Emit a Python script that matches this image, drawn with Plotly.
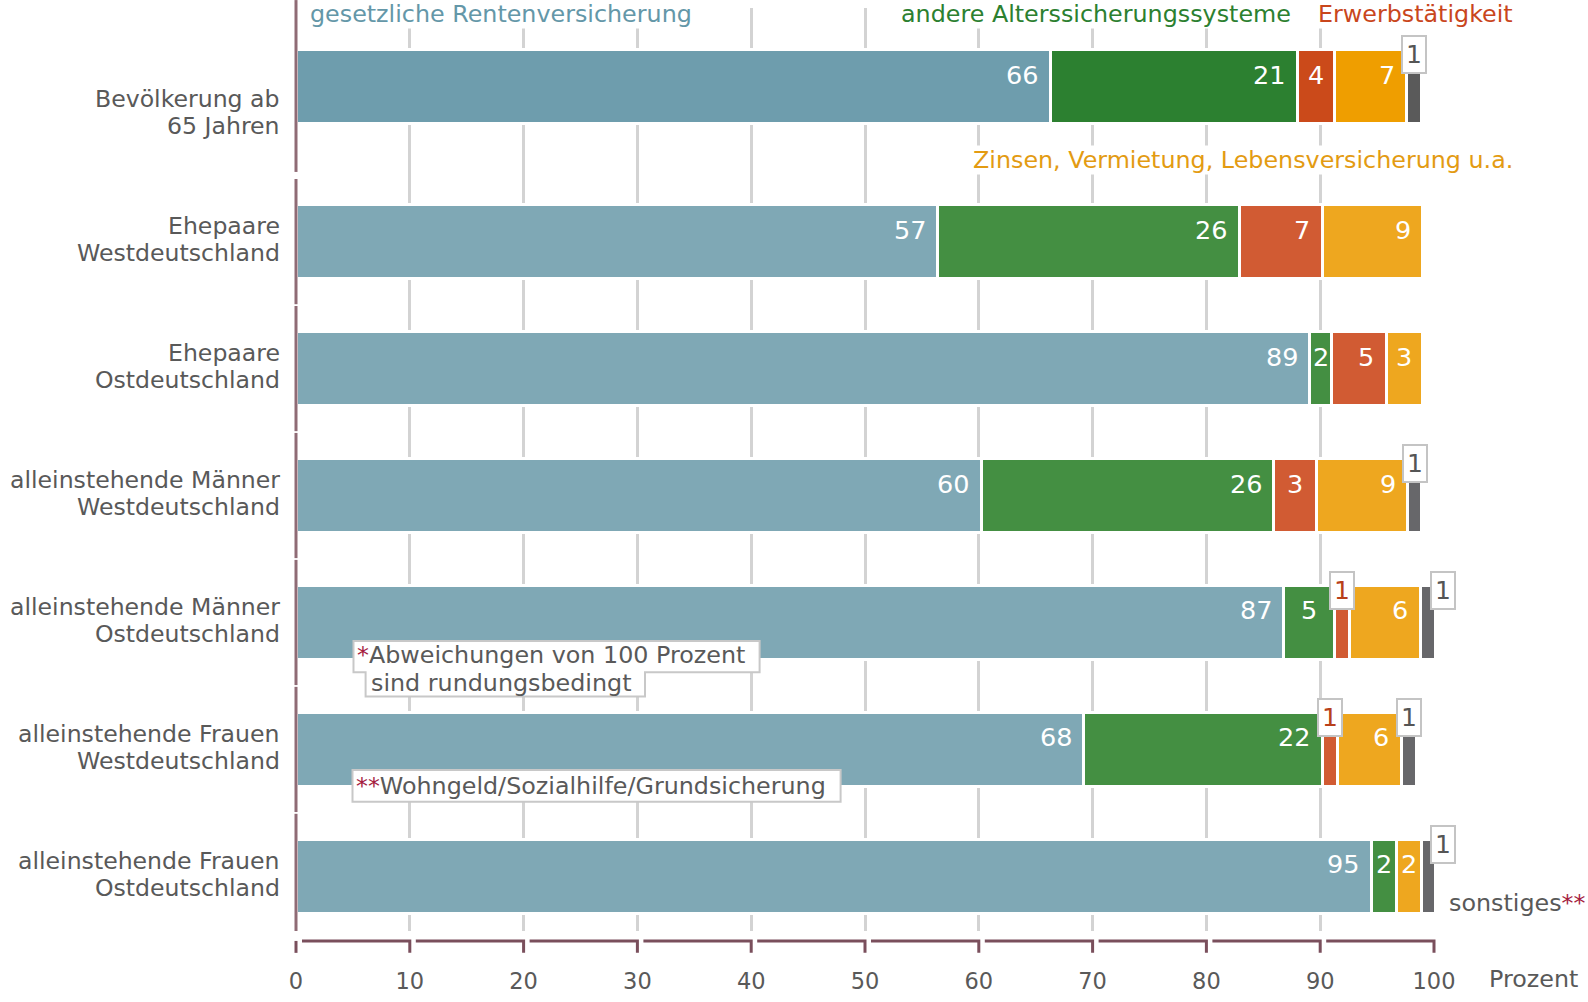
import plotly.graph_objects as go

# Alterseinkommen nach Quellen, Anteile in Prozent
categories = ["Bevölkerung ab\n65 Jahren", "Ehepaare\nWestdeutschland", "Ehepaare\nOstdeutschland",
              "alleinstehende Männer\nWestdeutschland", "alleinstehende Männer\nOstdeutschland",
              "alleinstehende Frauen\nWestdeutschland", "alleinstehende Frauen\nOstdeutschland"]

series_names = ["gesetzliche Rentenversicherung", "andere Alterssicherungssysteme", "Erwerbstätigkeit",
                "Zinsen, Vermietung, Lebensversicherung u.a.", "sonstiges"]

grv = [66.3, 56.4, 89.1, 60.2, 86.8, 69.2, 94.5]
andere = [21.7, 26.5, 1.9, 25.7, 4.5, 21.0, 2.2]
erwerb = [3.3, 7.3, 4.8, 3.8, 1.3, 1.3, 0]
zinsen = [6.3, 8.8, 3.2, 8.0, 6.2, 5.6, 2.2]
sonst = [1.3, 0, 0, 1.2, 1.3, 1.4, 1.2]

grv_lbl = ["66", "57", "89", "60", "87", "68", "95"]
andere_lbl = ["21", "26", "2", "26", "5", "22", "2"]
erwerb_lbl = ["4", "7", "5", "3", "1", "1", ""]
zinsen_lbl = ["7", "9", "3", "9", "6", "6", "2"]
sonst_lbl = ["1", "", "", "1", "1", "1", "1"]

x_ticks = [0, 10, 20, 30, 40, 50, 60, 70, 80, 90, 100]

values = [grv, andere, erwerb, zinsen, sonst]
labels = [grv_lbl, andere_lbl, erwerb_lbl, zinsen_lbl, sonst_lbl]

col_hl = ["#6e9dad", "#2c8030", "#cb4a1a", "#ef9e00", "#5a5a5a"]
col = ["#7fa8b5", "#448f42", "#d15b33", "#eea71f", "#67676a"]
box_txt = {2: "#b8401a", 4: "#555555"}
title_col = ["#6497a8", "#2c8030", "#c9461c", "#e39b12"]

FONT = "DejaVu Sans"
GREY = "#595959"
MAROON = "#a51d3f"

W, H = 1588, 1002
L, R, T, B = 296, 154, 8, 65
PW, PH = W - L - R, H - T - B

# row positions (first row set apart)
ypos = [0, 1.22, 2.22, 3.22, 4.22, 5.22, 6.22]
yr = [6.65, -0.62]
bw = 0.587


def yp(v):  # data y -> paper
    return (yr[0] - v) / (yr[0] - yr[1])


def pxy(py):  # pixel y -> paper
    return (H - B - py) / PH


def pxx(px):  # pixel x -> paper
    return (px - L) / PW


fig = go.Figure()
for s in range(5):
    fig.add_trace(go.Bar(
        y=ypos, x=values[s], orientation="h", name=series_names[s], width=bw,
        marker=dict(color=[col_hl[s] if i == 0 else col[s] for i in range(7)],
                    line=dict(color="white", width=3)),
        hoverinfo="x+name"))

ann = []
# value labels
for i in range(7):
    base = 0
    for s in range(5):
        v = values[s][i]
        t = labels[s][i]
        end = base + v
        if t:
            if v < 1.6:
                ann.append(dict(x=base + v / 2, y=ypos[i] - bw / 2, xref="x", yref="y", text=t,
                                showarrow=False, yshift=-5, xshift=15 if end > 99.5 else 0,
                                yanchor="middle",
                                bgcolor="white", bordercolor="#c4c4c4", borderwidth=2, borderpad=3,
                                font=dict(family=FONT, size=25, color=box_txt[s])))
            elif v < 4.7:
                ann.append(dict(x=base + v / 2, y=ypos[i], xref="x", yref="y", text=t,
                                showarrow=False, yshift=12, yanchor="middle",
                                font=dict(family=FONT, size=25.5, color="white")))
            else:
                ann.append(dict(x=end, y=ypos[i], xref="x", yref="y", text=t, xanchor="right",
                                showarrow=False, yshift=12, xshift=-10, yanchor="middle",
                                font=dict(family=FONT, size=25.5, color="white")))
        base = end

# category labels, one annotation per line
for i, c in enumerate(categories):
    l1, l2 = c.split("\n")
    shift = 28 if i == 0 else 0
    for txt, dy in [(l1, -15.5), (l2, 11.5)]:
        ann.append(dict(x=0, y=ypos[i], xref="paper", yref="y", text=txt, xanchor="right",
                        yanchor="middle", showarrow=False, xshift=-14, yshift=-(dy + shift),
                        font=dict(family=FONT, size=23.6, color=GREY)))


def label(px, py, txt, color=GREY, **kw):
    d = dict(x=pxx(px), y=pxy(py), xref="paper", yref="paper", text=txt, xanchor="left",
             yanchor="middle", showarrow=False, font=dict(family=FONT, size=23.8, color=color))
    d.update(kw)
    ann.append(d)


# series titles
label(309, 14, series_names[0], title_col[0], bgcolor="white", borderpad=0)
label(900, 14, series_names[1], title_col[1], bgcolor="white", borderpad=0)
label(1317, 14, series_names[2], title_col[2], bgcolor="white", borderpad=0)
label(972, 161, series_names[3], title_col[3], bgcolor="white", borderpad=0)
label(1447, 909, "sonstiges<span style='color:%s'>**</span>" % MAROON)
label(1487, 985, "Prozent")

# footnotes
label(355, 659, "<span style='color:%s'>*</span>Abweichungen von 100 Prozent" % MAROON)
label(369, 687, "sind rundungsbedingt")
label(354, 791, "<span style='color:%s'>**</span>Wohngeld/Sozialhilfe/Grundsicherung" % MAROON)

shapes = []
# cover grid line at 0, then segmented left axis
shapes.append(dict(type="line", xref="paper", yref="paper", x0=0, x1=0, y0=0, y1=1,
                   line=dict(color="white", width=4), layer="above"))
for i in range(7):
    if i == 0:
        y0, y1 = pxy(0), pxy(173)
    else:
        yc = yp(ypos[i])
        y0 = yc + 63 / PH
        y1 = max(yc - 63 / PH, 0)
    shapes.append(dict(type="line", xref="paper", yref="paper", x0=0, x1=0, y0=y0, y1=y1,
                       line=dict(color="#8f6b75", width=3), layer="above"))

# bracket axis below
yb0, yb1 = pxy(947), pxy(959)
gap = 6 / PW
shapes.append(dict(type="line", xref="paper", yref="paper", x0=0, x1=0, y0=yb0, y1=yb1,
                   line=dict(color="#7a4f5c", width=3)))
for k in range(1, len(x_ticks)):
    a, b = x_ticks[k - 1] / 100 + gap, x_ticks[k] / 100
    shapes.append(dict(type="path", xref="paper", yref="paper",
                       path="M %f,%f L %f,%f L %f,%f" % (a, yb0, b, yb0, b, yb1),
                       line=dict(color="#7a4f5c", width=3)))

# footnote boxes
pts = [(353.5, 645), (759.6, 645), (759.6, 676.5), (645, 676.5), (645, 701), (365.6, 701),
       (365.6, 676.5), (353.5, 676.5)]
path = "M " + " L ".join("%f,%f" % (pxx(a), pxy(b)) for a, b in pts) + " Z"
shapes.append(dict(type="path", xref="paper", yref="paper", path=path, fillcolor="white",
                   line=dict(color="#c8c8c8", width=2), layer="above"))
shapes.append(dict(type="rect", xref="paper", yref="paper", x0=pxx(352.5), x1=pxx(840.6),
                   y0=pxy(775), y1=pxy(807), fillcolor="white",
                   line=dict(color="#c8c8c8", width=2), layer="above"))

fig.update_layout(
    width=W, height=H, autosize=False,
    margin=dict(l=L, r=R, t=T, b=B),
    barmode="stack", showlegend=False,
    plot_bgcolor="white", paper_bgcolor="white",
    font=dict(family=FONT, color=GREY),
    xaxis=dict(range=[0, 100], tickvals=x_ticks, showgrid=True, gridcolor="#d3d3d3", gridwidth=2.5,
               zeroline=False, showline=False, ticks="", ticklabelstandoff=34,
               tickfont=dict(family=FONT, size=22.5, color=GREY), fixedrange=True),
    yaxis=dict(range=yr, showticklabels=False, showgrid=False, zeroline=False, showline=False,
               fixedrange=True),
    annotations=ann, shapes=shapes,
)

fig.write_html("out.html", config={"displayModeBar": False},
               post_script="document.body.style.margin='0';document.body.style.overflow='hidden';")
